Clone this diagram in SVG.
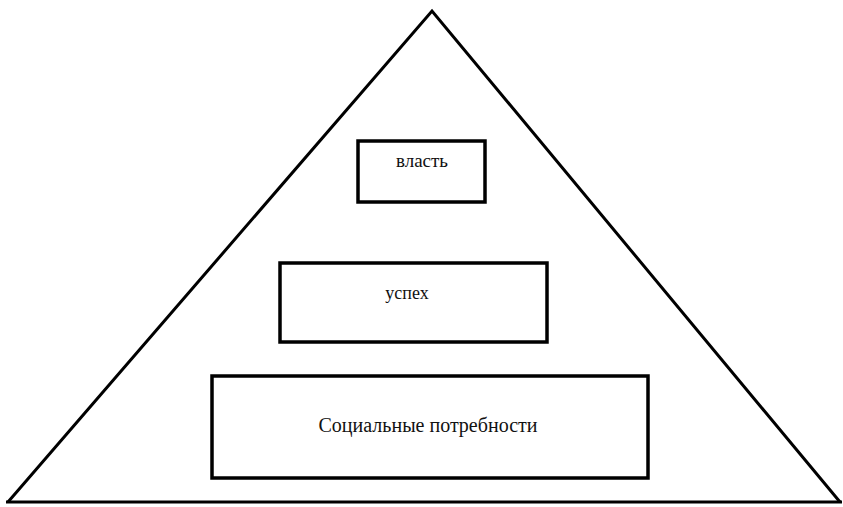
<svg xmlns="http://www.w3.org/2000/svg" width="843" height="507" viewBox="0 0 843 507">
<style>
.edge{fill:none;stroke:#000;stroke-width:3;stroke-linejoin:miter}
.box{fill:#fff;stroke:#000;stroke-width:3.5}
.lbl{font-family:"Liberation Serif","Times New Roman",serif;fill:#111;text-anchor:middle}
</style>
<rect width="843" height="507" fill="#fff"/>
<g id="connectors">
<polyline class="edge" points="8,502 432,11 840,502"/>
<line class="edge" x1="6" y1="502" x2="842" y2="502"/>
</g>
<g id="node-vlast">
<rect class="box" x="358" y="141" width="127" height="61"/>
<text class="lbl" x="422" y="167" font-size="19">власть</text>
</g>
<g id="node-uspeh">
<rect class="box" x="280" y="263" width="267" height="79"/>
<text class="lbl" x="407" y="299" font-size="18">успех</text>
</g>
<g id="node-social">
<rect class="box" x="212" y="376" width="436" height="102"/>
<text class="lbl" x="428" y="432" font-size="20">Социальные потребности</text>
</g>
</svg>
